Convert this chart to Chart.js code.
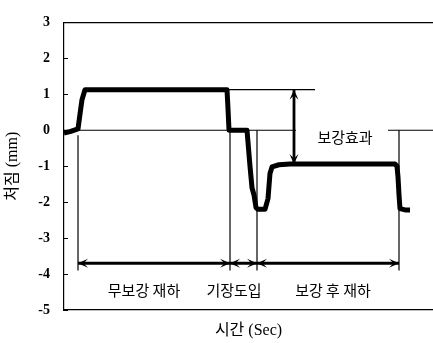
<!DOCTYPE html>
<html>
<head>
<meta charset="utf-8">
<script src="https://cdn.jsdelivr.net/npm/chart.js@4.4.1/dist/chart.umd.min.js"></script>
<style>
  html, body { margin: 0; padding: 0; background: #fff; }
  #wrap { width: 433px; height: 343px; }
</style>
</head>
<body>
<div id="wrap"><canvas id="c"></canvas></div>
<script>
// deflection record (x: time, arbitrary sec scale; y: mm)
const timeSec    = [0, 6, 14, 16, 18, 21, 163, 164, 165, 183, 186, 188, 190, 192, 194, 201, 204, 206, 208, 215, 226, 331, 333, 334, 335, 336, 342, 346];
const deflection = [-0.08, -0.04, 0.04, 0.45, 0.85, 1.13, 1.13, 0.6, 0.0, 0.0, -1.0, -1.6, -1.8, -2.15, -2.2, -2.2, -1.9, -1.2, -1.02, -0.96, -0.94, -0.94, -1.0, -1.3, -1.8, -2.18, -2.22, -2.22];

const yTicks = [-5, -4, -3, -2, -1, 0, 1, 2, 3];

// guide lines
const zeroLeftX  = [0, 232];
const zeroRightX = [324, 369];
const topLevelX  = [163, 251];
const guideX     = [14, 166, 193, 335];
const guideTop   = [-0.14, 0, 0, 0];
const guideBottom = -3.9;

// span arrows
const spanY     = -3.7;
const spanEdges = [14, 166, 193, 335];
const effectX   = 230;
const effectY   = [1.13, -0.94];

const phaseLabels = ['무보강 재하', '기장도입', '보강 후 재하'];
const phaseX      = [80, 170, 269];
const phaseY      = -4.45;
const effectLabel = '보강효과';
const effectLabelPos = [281, -0.2];

const seg = (xs, ys) => xs.map((x, i) => ({x: x, y: ys[i]}));
const thin = (data) => ({data: data, borderColor: '#000', borderWidth: 1.2, pointRadius: 0});

const datasets = [];
datasets.push({data: seg(timeSec, deflection), borderColor: '#000', borderWidth: 5, pointRadius: 0, borderJoinStyle: 'round'});
datasets.push(thin(seg(zeroLeftX, [0, 0])));
datasets.push(thin(seg(zeroRightX, [0, 0])));
datasets.push(thin(seg(topLevelX, [effectY[0], effectY[0]])));
guideX.forEach((x, i) => datasets.push(thin(seg([x, x], [guideTop[i], guideBottom]))));
for (let i = 0; i < spanEdges.length - 1; i++) {
  datasets.push({data: seg([spanEdges[i], spanEdges[i + 1]], [spanY, spanY]), borderColor: '#000', borderWidth: 2.8, pointRadius: 0, arrow: true});
}
datasets.push({data: seg([effectX, effectX], effectY), borderColor: '#000', borderWidth: 2.8, pointRadius: 0, arrow: true});

function head(ctx, tip, from) {
  const a = Math.atan2(tip.y - from.y, tip.x - from.x);
  const len = 10, w = 4.5;
  ctx.beginPath();
  ctx.moveTo(tip.x, tip.y);
  ctx.lineTo(tip.x - len * Math.cos(a) + w * Math.sin(a), tip.y - len * Math.sin(a) - w * Math.cos(a));
  ctx.lineTo(tip.x - 0.55 * len * Math.cos(a), tip.y - 0.55 * len * Math.sin(a));
  ctx.lineTo(tip.x - len * Math.cos(a) - w * Math.sin(a), tip.y - len * Math.sin(a) + w * Math.cos(a));
  ctx.closePath();
  ctx.fill();
}

const extras = {
  id: 'extras',
  afterDatasetsDraw(chart) {
    const {ctx, scales: {x, y}, chartArea} = chart;
    ctx.save();
    ctx.fillStyle = '#000';
    ctx.strokeStyle = '#000';
    // inner tick marks on y axis
    ctx.lineWidth = 1;
    y.ticks.forEach(t => {
      const py = Math.round(y.getPixelForValue(t.value)) + 0.5;
      ctx.beginPath();
      ctx.moveTo(chartArea.left, py);
      ctx.lineTo(chartArea.left + 4, py);
      ctx.stroke();
    });
    // arrow heads
    chart.data.datasets.forEach((ds, i) => {
      if (!ds.arrow) return;
      const pts = chart.getDatasetMeta(i).data;
      head(ctx, pts[0], pts[1]);
      head(ctx, pts[1], pts[0]);
    });
    // labels
    ctx.font = '15px "Noto Sans CJK KR"';
    ctx.textAlign = 'center';
    ctx.textBaseline = 'middle';
    phaseLabels.forEach((t, i) => ctx.fillText(t, x.getPixelForValue(phaseX[i]), y.getPixelForValue(phaseY)));
    ctx.fillText(effectLabel, x.getPixelForValue(effectLabelPos[0]), y.getPixelForValue(effectLabelPos[1]));
    ctx.restore();
  }
};

new Chart(document.getElementById('c'), {
  type: 'line',
  data: {datasets: datasets},
  options: {
    responsive: true,
    maintainAspectRatio: false,
    animation: false,
    parsing: false,
    layout: {padding: {top: 22, right: 0, bottom: 0, left: 0}},
    plugins: {legend: {display: false}, tooltip: {enabled: false}},
    scales: {
      x: {
        type: 'linear', min: 0, max: 369,
        grid: {display: false, drawTicks: false},
        border: {display: true, color: '#000', width: 1.2},
        ticks: {display: false},
        title: {display: true, text: '시간 (Sec)', color: '#000', font: {family: '"Liberation Serif", "Noto Sans CJK KR"', size: 16}, padding: {top: 0, bottom: 3}},
        afterFit: s => { s.height = 33; }
      },
      x2: {
        type: 'linear', position: 'top', min: 0, max: 369,
        grid: {display: false, drawTicks: false},
        border: {display: true, color: '#000', width: 1.2},
        ticks: {display: false},
        afterFit: s => { s.height = 0; }
      },
      y: {
        min: -5, max: 3,
        grid: {display: false, drawTicks: false},
        border: {display: true, color: '#000', width: 1.2},
        ticks: {
          stepSize: 0.5, padding: 14, color: '#000',
          font: {family: '"Liberation Serif"', size: 14, weight: 'bold'},
          callback: v => yTicks.includes(v) ? String(v) : ''
        },
        title: {display: true, text: '처짐 (mm)', color: '#000', font: {family: '"Liberation Serif", "Noto Sans CJK KR"', size: 16}, padding: {top: 3, bottom: 0}},
        afterFit: s => { s.width = 64; }
      }
    }
  },
  plugins: [extras]
});
</script>
</body>
</html>
